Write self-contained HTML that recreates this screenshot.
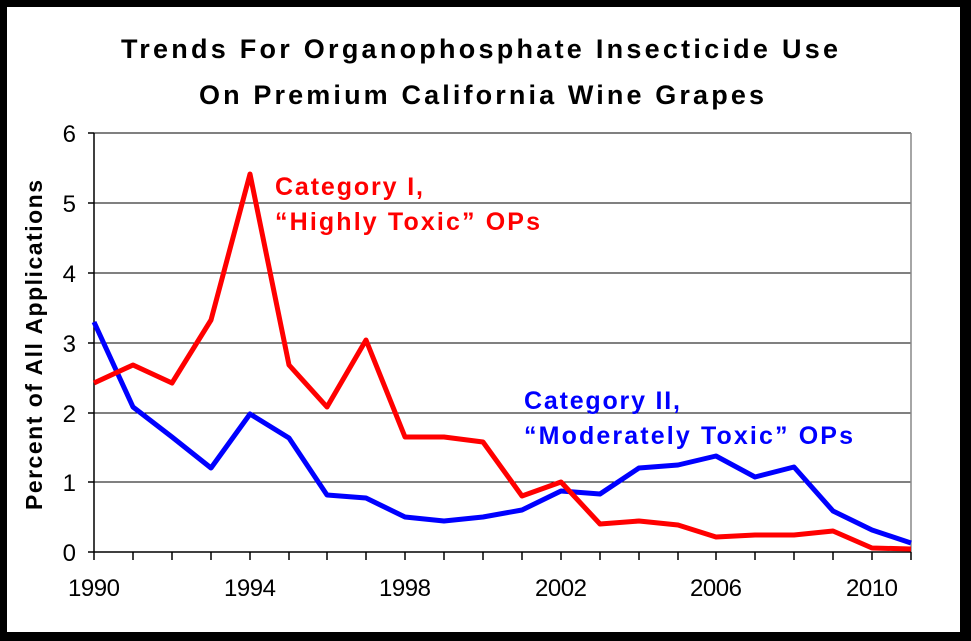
<!DOCTYPE html>
<html><head><style>
body{margin:0;background:#000;}
svg{display:block;font-family:"Liberation Sans",Arial,sans-serif;}
</style></head><body>
<svg width="971" height="641" viewBox="0 0 971 641" xmlns="http://www.w3.org/2000/svg">
<rect x="0" y="0" width="971" height="641" fill="#000"/>
<rect x="7" y="7" width="953" height="625" fill="#fff"/>
<text x="121" y="58" font-size="27" font-weight="bold" textLength="717" lengthAdjust="spacing">Trends For Organophosphate Insecticide Use</text>
<text x="199" y="104" font-size="27" font-weight="bold" textLength="565" lengthAdjust="spacing">On Premium California Wine Grapes</text>
<g stroke="#000" stroke-width="1">
<line x1="94" y1="133" x2="911" y2="133"/>
<line x1="94" y1="203" x2="911" y2="203"/>
<line x1="94" y1="273" x2="911" y2="273"/>
<line x1="94" y1="343" x2="911" y2="343"/>
<line x1="94" y1="413" x2="911" y2="413"/>
<line x1="94" y1="482" x2="911" y2="482"/>
</g>
<line x1="911" y1="133" x2="911" y2="552" stroke="#888" stroke-width="1.5"/>
<g stroke="#000" stroke-width="1.5">
<line x1="94" y1="133" x2="94" y2="552"/>
<line x1="88" y1="552" x2="911" y2="552"/>
<line x1="88" y1="133" x2="94" y2="133"/><line x1="88" y1="203" x2="94" y2="203"/><line x1="88" y1="273" x2="94" y2="273"/><line x1="88" y1="343" x2="94" y2="343"/><line x1="88" y1="413" x2="94" y2="413"/><line x1="88" y1="482" x2="94" y2="482"/>
<line x1="94" y1="552" x2="94" y2="560"/><line x1="133" y1="552" x2="133" y2="560"/><line x1="172" y1="552" x2="172" y2="560"/><line x1="211" y1="552" x2="211" y2="560"/><line x1="250" y1="552" x2="250" y2="560"/><line x1="289" y1="552" x2="289" y2="560"/><line x1="327" y1="552" x2="327" y2="560"/><line x1="366" y1="552" x2="366" y2="560"/><line x1="405" y1="552" x2="405" y2="560"/><line x1="444" y1="552" x2="444" y2="560"/><line x1="483" y1="552" x2="483" y2="560"/><line x1="522" y1="552" x2="522" y2="560"/><line x1="561" y1="552" x2="561" y2="560"/><line x1="600" y1="552" x2="600" y2="560"/><line x1="639" y1="552" x2="639" y2="560"/><line x1="678" y1="552" x2="678" y2="560"/><line x1="716" y1="552" x2="716" y2="560"/><line x1="755" y1="552" x2="755" y2="560"/><line x1="794" y1="552" x2="794" y2="560"/><line x1="833" y1="552" x2="833" y2="560"/><line x1="872" y1="552" x2="872" y2="560"/><line x1="911" y1="552" x2="911" y2="560"/>
</g>
<g font-size="24" text-anchor="end">
<text x="76" y="561">0</text><text x="76" y="491">1</text><text x="76" y="422">2</text><text x="76" y="352">3</text><text x="76" y="282">4</text><text x="76" y="212">5</text><text x="76" y="142">6</text>
</g>
<g font-size="24">
<text x="68" y="596" textLength="52" lengthAdjust="spacing">1990</text><text x="224" y="596" textLength="52" lengthAdjust="spacing">1994</text><text x="379" y="596" textLength="52" lengthAdjust="spacing">1998</text><text x="535" y="596" textLength="52" lengthAdjust="spacing">2002</text><text x="690" y="596" textLength="52" lengthAdjust="spacing">2006</text><text x="846" y="596" textLength="52" lengthAdjust="spacing">2010</text>
</g>
<text transform="translate(42,510) rotate(-90)" font-size="23" font-weight="bold" textLength="330" lengthAdjust="spacing">Percent of All Applications</text>
<polyline fill="none" stroke="#00f" stroke-width="5" stroke-linejoin="round" points="94,322 133,407 172,437 211,468 250,414 289,438 327,495 366,498 405,517 444,521 483,517 522,510 561,491 600,494 639,468 678,465 716,456 755,477 794,467 833,511 872,530 911,543"/>
<polyline fill="none" stroke="#f00" stroke-width="5" stroke-linejoin="round" points="94,383 133,365 172,383 211,320 250,174 289,365 327,407 366,340 405,437 444,437 483,442 522,496 561,482 600,524 639,521 678,525 716,537 755,535 794,535 833,531 872,548 911,549"/>
<text x="275" y="195" font-size="25" font-weight="bold" fill="#f00" textLength="148" lengthAdjust="spacing">Category I,</text>
<text x="275" y="230" font-size="25" font-weight="bold" fill="#f00" textLength="265" lengthAdjust="spacing">“Highly Toxic” OPs</text>
<text x="524" y="409" font-size="25" font-weight="bold" fill="#00f" textLength="156" lengthAdjust="spacing">Category II,</text>
<text x="524" y="444" font-size="25" font-weight="bold" fill="#00f" textLength="329" lengthAdjust="spacing">“Moderately Toxic” OPs</text>
</svg>
</body></html>
